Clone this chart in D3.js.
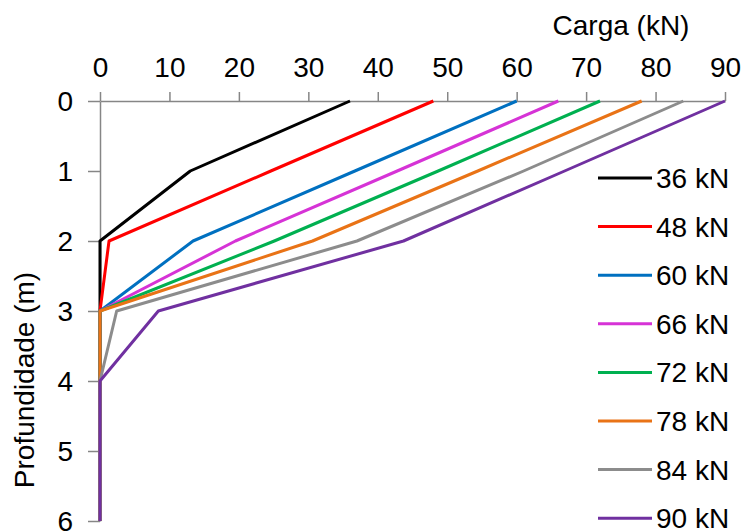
<!DOCTYPE html>
<html>
<head>
<meta charset="utf-8">
<script src="https://cdn.jsdelivr.net/npm/d3@7"></script>
<style>
  html, body { margin: 0; padding: 0; background: #fff; }
  svg { display: block; font-family: Arial, "Liberation Sans", sans-serif; }
</style>
</head>
<body>
<svg id="chart" width="741" height="532"></svg>
<script>
// ---- data ----
const depths = [0, 1, 2, 3, 4, 5, 6];
const seriesNames = ["36 kN", "48 kN", "60 kN", "66 kN", "72 kN", "78 kN", "84 kN", "90 kN"];
const s36 = [36, 13.0, 0, 0, 0, 0, 0];
const s48 = [48, 24.6, 1.3, 0, 0, 0, 0];
const s60 = [60, 36.7, 13.4, 0, 0, 0, 0];
const s66 = [66, 42.8, 19.5, 0, 0, 0, 0];
const s72 = [72, 48.7, 25.1, 0, 0, 0, 0];
const s78 = [78, 54.4, 30.6, 0, 0, 0, 0];
const s84 = [84, 61.0, 37.0, 2.4, 0, 0, 0];
const s90 = [90, 66.9, 43.7, 8.4, 0, 0, 0];
const xTicks = [0, 10, 20, 30, 40, 50, 60, 70, 80, 90];
const yTicks = [0, 1, 2, 3, 4, 5, 6];
const colors = ["#000000", "#ff0000", "#0070c0", "#d633d6", "#00b050", "#e97316", "#8c8c8c", "#7030a0"];
const xTitle = "Carga (kN)";
const yTitle = "Profundidade (m)";

const allSeries = [s36, s48, s60, s66, s72, s78, s84, s90];

// ---- layout ----
const svg = d3.select("#chart");
const x = d3.scaleLinear().domain([0, 90]).range([100, 725]);
const y = d3.scaleLinear().domain([0, 6]).range([101, 521]);
const axisColor = "#868686";
const fontSize = 28;

// x axis (top)
const gx = svg.append("g").attr("transform", `translate(0,${y(0)})`)
  .call(d3.axisTop(x).tickValues(xTicks).tickSize(9).tickPadding(15).tickSizeOuter(0).tickFormat(d3.format("d")));
// y axis (left)
const gy = svg.append("g").attr("transform", `translate(${x(0)},0)`)
  .call(d3.axisLeft(y).tickValues(yTicks).tickSize(12).tickPadding(15).tickSizeOuter(0).tickFormat(d3.format("d")));

[gx, gy].forEach(g => {
  g.select(".domain").attr("stroke", axisColor).attr("stroke-width", 1.5);
  g.selectAll(".tick line").attr("stroke", axisColor).attr("stroke-width", 1.5);
  g.selectAll(".tick text").attr("fill", "#000").style("font-size", fontSize + "px")
    .style("font-family", "Arial, 'Liberation Sans', sans-serif");
});
gx.selectAll(".tick text").attr("dy", "0");
gy.selectAll(".tick text").attr("dy", "0.35em");

// axis titles
svg.append("text").attr("x", 621).attr("y", 35).attr("text-anchor", "middle")
  .style("font-size", fontSize + "px").attr("fill", "#000").text(xTitle);
svg.append("text").attr("transform", "translate(34,380) rotate(-90)").attr("text-anchor", "middle")
  .style("font-size", fontSize + "px").attr("fill", "#000").text(yTitle);

// lines
const line = d3.line().x(d => x(d[0])).y(d => y(d[1]));
allSeries.forEach((s, i) => {
  svg.append("path")
    .datum(s.map((v, j) => [v, depths[j]]))
    .attr("d", line)
    .attr("fill", "none")
    .attr("stroke", colors[i])
    .attr("stroke-width", 3)
    .attr("stroke-linejoin", "round");
});

// legend
const lg = svg.append("g");
seriesNames.forEach((name, i) => {
  const cy = 178 + i * 48.6;
  lg.append("line").attr("x1", 598).attr("x2", 652).attr("y1", cy).attr("y2", cy)
    .attr("stroke", colors[i]).attr("stroke-width", 3);
  lg.append("text").attr("x", 656).attr("y", cy).attr("dy", "0.36em")
    .style("font-size", fontSize + "px").attr("fill", "#000").text(name);
});
</script>
</body>
</html>
